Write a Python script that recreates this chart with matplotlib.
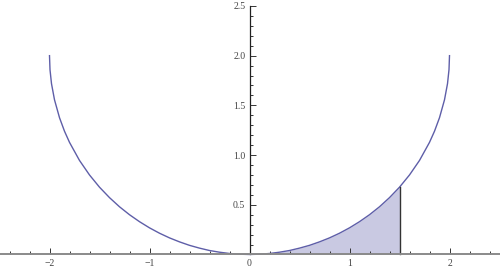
import numpy as np
import matplotlib.pyplot as plt
from matplotlib.ticker import FixedLocator

# points (right half; left half is its mirror)
x_half = [0.0, 0.1, 0.2, 0.3, 0.4, 0.5, 0.6, 0.7, 0.8, 0.9, 1.0, 1.1, 1.2, 1.3,
          1.4, 1.5, 1.6, 1.7, 1.8, 1.85, 1.9, 1.95, 1.98, 1.995, 2.0]
y_half = [0.0, 0.003, 0.010, 0.023, 0.040, 0.064, 0.092, 0.127, 0.167, 0.214,
          0.268, 0.330, 0.400, 0.480, 0.572, 0.677, 0.800, 0.946, 1.128, 1.240,
          1.376, 1.556, 1.718, 1.859, 2.0]
fill_end = 1.5

x_ticks = [-2, -1, 0, 1, 2]
x_labels = ['\u22122', '\u22121', '0', '1', '2']
y_ticks = [0.5, 1.0, 1.5, 2.0, 2.5]
y_labels = ['0.5', '1.0', '1.5', '2.0', '2.5']

x_half = np.array(x_half)
y_half = np.array(y_half)
xs = np.concatenate([-x_half[::-1], x_half[1:]])
ys = np.concatenate([y_half[::-1], y_half[1:]])

curve_col = '#5e5ea8'
fill_col = '#c9c9e2'

fig = plt.figure(figsize=(5.0, 2.69), dpi=100)
ax = fig.add_axes([0, 0, 1, 1])
ax.set_xlim(-2.495, 2.505)
ax.set_ylim(-0.146, 2.56)

m = x_half <= fill_end
ax.fill_between(x_half[m], 0, y_half[m], color=fill_col, lw=0, zorder=1)
ax.plot(xs, ys, color=curve_col, lw=1.0, zorder=2)
ax.plot([fill_end, fill_end], [0, y_half[m][-1]], color='#333333', lw=1.0, zorder=2)

for s in ['top', 'right']:
    ax.spines[s].set_visible(False)
ax.spines['bottom'].set_position(('data', 0))
ax.spines['left'].set_position(('data', 0))
ax.spines['bottom'].set_color('#8a8a8a')
ax.spines['left'].set_color('#222222')
ax.spines['bottom'].set_zorder(5)
ax.spines['left'].set_bounds(0, 2.5)
ax.spines['bottom'].set_linewidth(1.4)
ax.spines['left'].set_linewidth(0.9)

ax.xaxis.set_major_locator(FixedLocator(x_ticks))
ax.set_xticklabels(x_labels)
ax.xaxis.set_minor_locator(FixedLocator([v / 5 for v in range(-12, 13) if v % 5 != 0]))
ax.yaxis.set_major_locator(FixedLocator(y_ticks))
ax.set_yticklabels(y_labels)
ax.yaxis.set_minor_locator(FixedLocator([v / 10 for v in range(1, 25) if v % 5 != 0]))

ax.tick_params(which='both', direction='in', color='#333333', width=0.7,
               labelsize=7, labelcolor='#444444')
ax.tick_params(which='major', length=4)
ax.tick_params(which='minor', length=2.5)
ax.tick_params(axis='x', which='both', pad=3)
ax.tick_params(axis='y', which='both', pad=3)
for lab in ax.get_xticklabels() + ax.get_yticklabels():
    lab.set_family('Liberation Serif')

fig.savefig('out.png', dpi=100)
